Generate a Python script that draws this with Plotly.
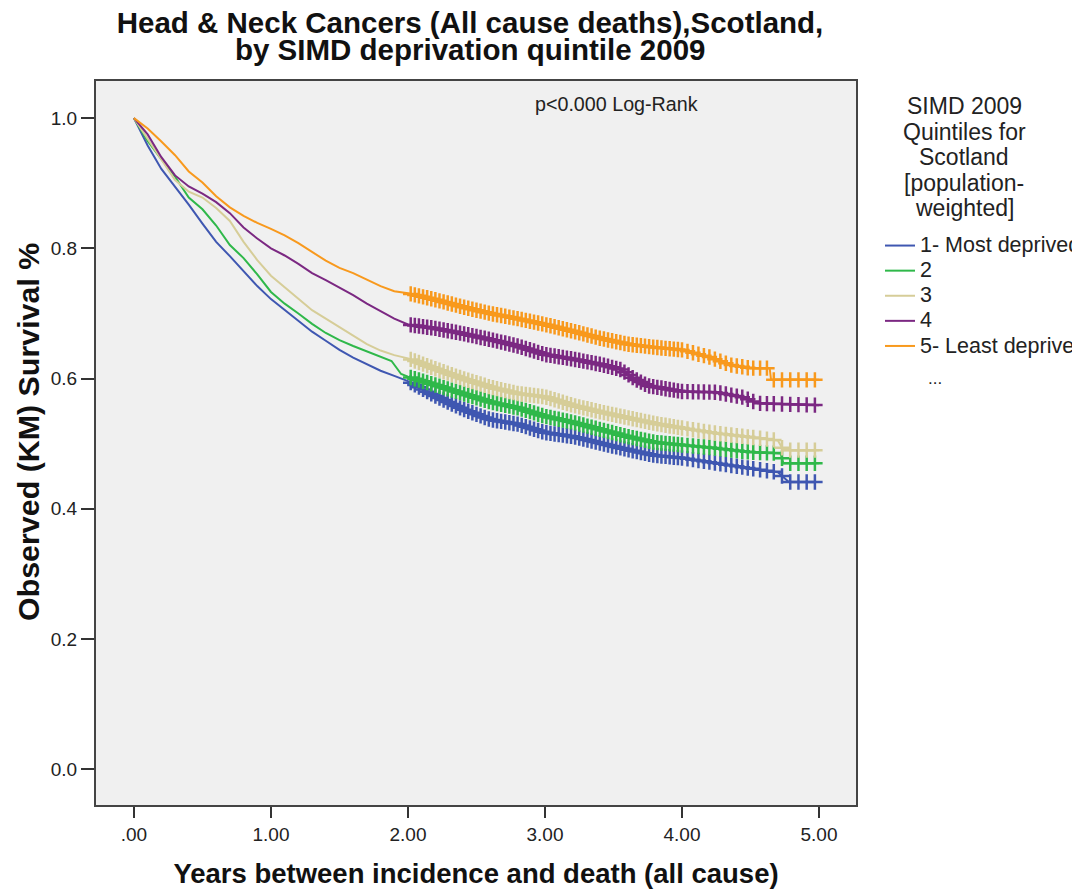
import numpy as np
import plotly.graph_objects as go

# ---------------- data ----------------
SERIES_NAMES = ["1- Most deprived", "2", "3", "4", "5- Least deprived"]

T1 = [0, 0.1, 0.2, 0.3, 0.4, 0.5, 0.6, 0.7, 0.8, 0.9, 1.0, 1.1, 1.2, 1.3, 1.4, 1.5, 1.6, 1.7, 1.8, 1.9, 2.0,
      2.2, 2.4, 2.6, 2.8, 3.0, 3.2, 3.4, 3.6, 3.8, 4.0, 4.25, 4.5, 4.7, 4.78, 5.0]
S1 = [1.0, 0.958, 0.922, 0.895, 0.867, 0.838, 0.810, 0.788, 0.765, 0.742, 0.722, 0.705, 0.688, 0.672, 0.658,
      0.644, 0.632, 0.622, 0.612, 0.604, 0.596, 0.573, 0.553, 0.537, 0.530, 0.517, 0.511, 0.501, 0.491, 0.482,
      0.478, 0.470, 0.462, 0.456, 0.441, 0.441]

T2 = [0, 0.1, 0.2, 0.3, 0.4, 0.5, 0.6, 0.7, 0.8, 0.9, 1.0, 1.1, 1.2, 1.3, 1.4, 1.5, 1.6, 1.7, 1.8, 1.88, 1.95,
      2.0, 2.2, 2.4, 2.6, 2.8, 3.0, 3.2, 3.4, 3.6, 3.8, 4.0, 4.25, 4.5, 4.72, 4.74, 5.0]
S2 = [1.0, 0.965, 0.937, 0.910, 0.878, 0.860, 0.835, 0.805, 0.785, 0.760, 0.733, 0.715, 0.700, 0.684, 0.670,
      0.659, 0.650, 0.642, 0.634, 0.627, 0.607, 0.603, 0.590, 0.577, 0.564, 0.555, 0.542, 0.533, 0.522, 0.511,
      0.502, 0.498, 0.493, 0.487, 0.485, 0.470, 0.470]

T3 = [0, 0.1, 0.2, 0.3, 0.4, 0.5, 0.6, 0.7, 0.8, 0.9, 1.0, 1.1, 1.2, 1.3, 1.4, 1.5, 1.6, 1.7, 1.8, 1.9, 2.0,
      2.2, 2.4, 2.6, 2.8, 3.0, 3.2, 3.4, 3.6, 3.8, 4.0, 4.25, 4.5, 4.7, 4.74, 5.0]
S3 = [1.0, 0.968, 0.935, 0.905, 0.887, 0.878, 0.862, 0.842, 0.810, 0.782, 0.758, 0.740, 0.722, 0.705, 0.692,
      0.679, 0.666, 0.653, 0.643, 0.636, 0.631, 0.615, 0.600, 0.587, 0.577, 0.572, 0.559, 0.549, 0.540, 0.531,
      0.524, 0.516, 0.510, 0.505, 0.490, 0.490]

T4 = [0, 0.1, 0.2, 0.3, 0.4, 0.5, 0.6, 0.7, 0.8, 0.9, 1.0, 1.1, 1.2, 1.3, 1.4, 1.5, 1.6, 1.7, 1.8, 1.9, 2.0,
      2.2, 2.4, 2.6, 2.8, 3.0, 3.2, 3.4, 3.55, 3.65, 3.75, 4.0, 4.25, 4.45, 4.55, 5.0]
S4 = [1.0, 0.975, 0.940, 0.912, 0.895, 0.884, 0.871, 0.854, 0.832, 0.815, 0.800, 0.789, 0.776, 0.762, 0.751,
      0.740, 0.728, 0.715, 0.703, 0.692, 0.683, 0.677, 0.669, 0.660, 0.650, 0.637, 0.630, 0.622, 0.614, 0.600,
      0.589, 0.580, 0.579, 0.571, 0.562, 0.559]

T5 = [0, 0.1, 0.2, 0.3, 0.4, 0.5, 0.6, 0.7, 0.8, 0.9, 1.0, 1.1, 1.2, 1.3, 1.4, 1.5, 1.6, 1.7, 1.8, 1.9, 2.0,
      2.2, 2.4, 2.6, 2.8, 3.0, 3.2, 3.4, 3.6, 3.8, 4.0, 4.2, 4.35, 4.5, 4.64, 4.65, 5.0]
S5 = [1.0, 0.984, 0.964, 0.943, 0.918, 0.901, 0.880, 0.863, 0.850, 0.839, 0.830, 0.820, 0.808, 0.795, 0.781,
      0.770, 0.762, 0.752, 0.742, 0.734, 0.731, 0.721, 0.710, 0.700, 0.692, 0.683, 0.673, 0.662, 0.653, 0.648,
      0.644, 0.633, 0.621, 0.616, 0.616, 0.598, 0.598]

# censored observations (times), shared by the groups
CENSOR_TIMES = [2.02, 2.05, 2.08, 2.11, 2.14, 2.17, 2.20, 2.23, 2.26, 2.29, 2.32, 2.35, 2.38, 2.41, 2.44,
                2.47, 2.50, 2.53, 2.56, 2.59, 2.62, 2.65, 2.68, 2.71, 2.74, 2.77, 2.80, 2.83, 2.86, 2.89,
                2.92, 2.95, 2.98, 3.01, 3.04, 3.07, 3.10, 3.13, 3.16, 3.19, 3.22, 3.25, 3.28, 3.31, 3.34,
                3.37, 3.40, 3.43, 3.46, 3.49, 3.52, 3.55, 3.58, 3.61, 3.64, 3.67, 3.70, 3.73, 3.76, 3.79,
                3.82, 3.85, 3.88, 3.91, 3.94, 3.97, 4.00, 4.04, 4.08, 4.12, 4.16, 4.20, 4.24, 4.28, 4.32,
                4.36, 4.40, 4.44, 4.48, 4.52, 4.57, 4.62, 4.67, 4.73, 4.79, 4.85, 4.91, 4.97]

X_TICKS = [0, 1, 2, 3, 4, 5]
X_TICK_LABELS = [".00", "1.00", "2.00", "3.00", "4.00", "5.00"]
Y_TICKS = [0.0, 0.2, 0.4, 0.6, 0.8, 1.0]
Y_TICK_LABELS = ["0.0", "0.2", "0.4", "0.6", "0.8", "1.0"]

TITLE_LINES = ["Head & Neck Cancers (All cause deaths),Scotland,", "by SIMD deprivation quintile 2009"]
LEGEND_TITLE_LINES = ["SIMD 2009", "Quintiles for", "Scotland", "[population-", "weighted]"]
X_TITLE = "Years between incidence and death (all cause)"
Y_TITLE = "Observed (KM) Survival %"

COLORS = ["#3f57b1", "#2fb84a", "#d6cd98", "#7b2882", "#f8991d"]

TIMES = [T1, T2, T3, T4, T5]
SURV = [S1, S2, S3, S4, S5]

FONT = "Liberation Sans, Arial, sans-serif"

# The page body has an 8px default margin: the figure is drawn 8px in from the
# top-left corner of the window, so it is made 8px smaller and all target pixel
# positions (window coordinates) are shifted by that offset.
OFF = 8
FIG_W, FIG_H = 1080 - OFF, 890 - OFF
L, R, T, B = 96 - OFF, 856 - OFF, 81 - OFF, 805 - OFF   # plot area inside the figure
W, H = R - L, B - T


def px_x(px):
    """window x pixel -> paper x"""
    return (px - OFF - L) / W


def px_y(py):
    """window y pixel -> paper y"""
    return (B - (py - OFF)) / H


fig = go.Figure()
for name, t, s, c in zip(SERIES_NAMES, TIMES, SURV, COLORS):
    fig.add_trace(go.Scatter(x=t, y=s, mode="lines",
                             name="<span style='font-size:21.5px'>" + name + "</span>",
                             line=dict(color=c, width=2)))
for name, t, s, c in zip(SERIES_NAMES, TIMES, SURV, COLORS):
    ct = np.array(CENSOR_TIMES)
    cy = np.interp(ct, t, s)
    fig.add_trace(go.Scatter(x=ct, y=cy, mode="markers", name=name, showlegend=False,
                             marker=dict(symbol="cross-thin", size=11, color=c,
                                         line=dict(color=c, width=2.5))))

fig.update_layout(
    width=FIG_W, height=FIG_H,
    margin=dict(l=L, r=FIG_W - R, t=T, b=FIG_H - B, autoexpand=False),
    paper_bgcolor="white", plot_bgcolor="#f0f0f0",
    font=dict(family=FONT, color="#222222", size=19),
    title=dict(text="<b>" + TITLE_LINES[0] + "</b>",
               xref="paper", x=px_x(470), xanchor="center",
               yref="container", y=1 - (23 - OFF) / FIG_H, yanchor="middle",
               font=dict(family=FONT, size=29.5, color="#111111")),
    showlegend=True,
    legend=dict(x=px_x(880), xanchor="left", y=px_y(228), yanchor="top",
                bgcolor="rgba(0,0,0,0)", itemwidth=30, tracegroupgap=0,
                font=dict(family=FONT, size=17, color="#222222")),
)
fig.update_xaxes(range=[-0.277, 5.27], tickvals=X_TICKS, ticktext=X_TICK_LABELS,
                 showgrid=False, zeroline=False, showline=True, linecolor="#444444", linewidth=2,
                 mirror=True, ticks="outside", ticklen=11, tickwidth=2, tickcolor="#333333",
                 tickfont=dict(size=19), automargin=False,
                 title=dict(text="<b>" + X_TITLE + "</b>",
                            font=dict(size=27.5, color="#111111"), standoff=20))
fig.update_yaxes(range=[-0.055, 1.057], tickvals=Y_TICKS, ticktext=Y_TICK_LABELS,
                 showgrid=False, zeroline=False, showline=True, linecolor="#444444", linewidth=2,
                 mirror=True, ticks="outside", ticklen=13, tickwidth=2, tickcolor="#333333",
                 tickfont=dict(size=19), automargin=False)

# y-axis title (placed as in the reference, slightly above the plot centre)
fig.add_annotation(text="<b>" + Y_TITLE + "</b>", xref="paper", yref="paper",
                   x=px_x(28), y=px_y(432), xanchor="center", yanchor="middle", textangle=-90,
                   showarrow=False, font=dict(size=30.4, color="#111111"))

# second title line
fig.add_annotation(text="<b>" + TITLE_LINES[1] + "</b>", xref="paper", yref="paper",
                   x=px_x(470), y=px_y(50), xanchor="center", yanchor="middle",
                   showarrow=False, font=dict(size=29.5, color="#111111"))

# legend title lines (tight line spacing as in the reference)
for i, line in enumerate(LEGEND_TITLE_LINES):
    fig.add_annotation(text=line, xref="paper", yref="paper",
                       x=px_x(964), y=px_y(106 + 25.5 * i), xanchor="center", yanchor="middle",
                       showarrow=False, font=dict(size=23, color="#222222"))

fig.add_annotation(text="p<0.000 Log-Rank", xref="paper", yref="paper",
                   x=px_x(616), y=px_y(104), xanchor="center", yanchor="middle",
                   showarrow=False, font=dict(size=19.7, color="#222222"))
fig.add_annotation(text="...", xref="paper", yref="paper",
                   x=px_x(935), y=px_y(378), xanchor="center", yanchor="middle",
                   showarrow=False, font=dict(size=17, color="#222222"))

fig.write_html("out.html")
